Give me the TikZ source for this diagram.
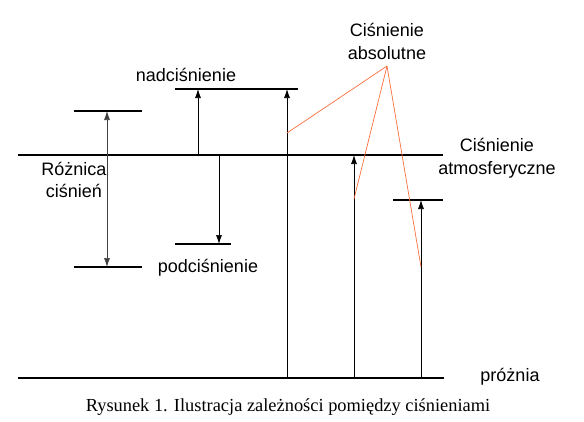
\documentclass[tikz,border=0pt]{standalone}
\usepackage{fontspec}
\setmainfont{Liberation Sans}
\newfontfamily\capfont{Liberation Serif}
\usetikzlibrary{positioning,arrows.meta}
\definecolor{leadcol}{RGB}{250,110,60}

\begin{document}
\begin{tikzpicture}[x=1pt,y=-1pt,
  level/.style={line width=1.6pt},
  arr/.style={line width=0.7pt,-{Latex[length=9pt,width=6pt]}},
  dblarr/.style={line width=0.7pt,black!75,{Latex[length=9pt,width=6pt]}-{Latex[length=9pt,width=6pt]}},
  lead/.style={leadcol,line width=0.7pt},
  lbl/.style={font=\fontsize{18}{22.5}\selectfont,inner sep=0pt,align=center}]
\useasboundingbox (0,0) rectangle (584,421);
% poziomy cisnien
\coordinate (atmL) at (18,155);  \coordinate (atmR) at (443,155);
\coordinate (vacL) at (18,378);  \coordinate (vacR) at (444,378);
\coordinate (hiL) at (74,111);   \coordinate (hiR) at (142,111);
\coordinate (loL) at (74,267);   \coordinate (loR) at (142,267);
\coordinate (nadL) at (175,89);  \coordinate (nadR) at (298,89);
\coordinate (podL) at (175,244); \coordinate (podR) at (231,244);
\coordinate (absL) at (393,200); \coordinate (absR) at (443,200);
\draw[level] (atmL) -- (atmR);
\draw[level] (vacL) -- (vacR);
\draw[level] (hiL) -- (hiR);
\draw[level] (loL) -- (loR);
\draw[level] (nadL) -- (nadR);
\draw[level] (podL) -- (podR);
\draw[level] (absL) -- (absR);
% strzalki
\coordinate (d1) at (107,111); \coordinate (d2) at (107,267);
\draw[dblarr] (d1) -- (d2);
\coordinate (n1) at (198,155); \coordinate (n2) at (198,89);
\draw[arr] (n1) -- (n2);
\coordinate (p1) at (219,155); \coordinate (p2) at (219,244);
\draw[arr] (p1) -- (p2);
\coordinate (a1) at (287,378); \coordinate (a2) at (287,89);
\draw[arr] (a1) -- (a2);
\coordinate (b1) at (354,378); \coordinate (b2) at (354,155);
\draw[arr] (b1) -- (b2);
\coordinate (c1) at (421,378); \coordinate (c2) at (421,200);
\draw[arr] (c1) -- (c2);
% odnosniki
\coordinate (tip) at (387,66);
\draw[lead] (tip) -- (287,133);
\draw[lead] (tip) -- (354,199);
\draw[lead] (tip) -- (421,267);
% opisy
\node[lbl] (nad) at (186,75) {nadciśnienie};
\node[lbl] (pod) at (208,268) {podciśnienie};
\node[lbl] (roz) at (74,180) {Różnica\\ciśnień};
\node[lbl] (abs) at (387,41.5) {Ciśnienie\\absolutne};
\node[lbl] (atm) at (497,158) {Ciśnienie\\atmosferyczne};
\node[lbl] (vac) at (510,377) {próżnia};
\node[font=\capfont\fontsize{18.4}{22}\selectfont,inner sep=0pt] (cap) at (288,407) {Rysunek 1. Ilustracja zależności pomiędzy ciśnieniami};
\end{tikzpicture}
\end{document}
